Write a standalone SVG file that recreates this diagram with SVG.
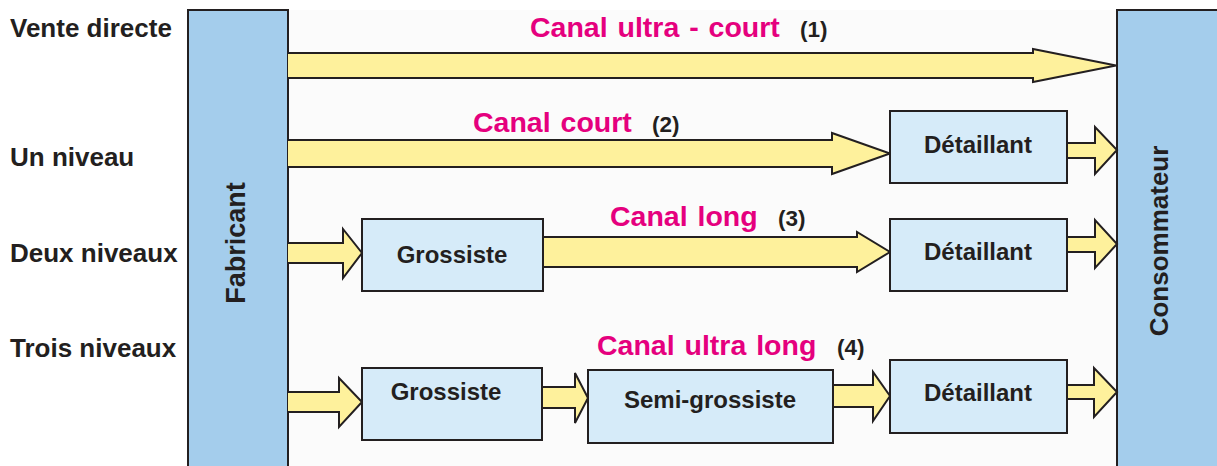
<svg xmlns="http://www.w3.org/2000/svg" width="1217" height="466" viewBox="0 0 1217 466">
<style>
.col{fill:#A4CDEC;stroke:#231F20;stroke-width:2}
.node{fill:#D6EBF9;stroke:#231F20;stroke-width:2}
.arr{fill:#FEF19C;stroke:#231F20;stroke-width:2;stroke-linejoin:miter}
.lbl{font-family:"Liberation Sans",Arial,sans-serif;font-weight:bold;fill:#231F20}
.side{font-size:26px}
.ntx{font-size:24px;text-anchor:middle}
.title{font-family:"Liberation Sans",Arial,sans-serif;font-weight:bold;font-size:28.5px;fill:#E5007E;word-spacing:2px}
.num{font-size:22.5px}
.vert{font-size:27px;text-anchor:middle}
</style>
<rect x="0" y="0" width="1217" height="466" fill="#FFFFFF"/>
<rect x="288" y="10" width="829" height="456" fill="#FBFBFB"/>

<g id="fabricant">
<rect class="col" x="188" y="10" width="100" height="470"/>
<text class="lbl vert" transform="translate(245,243) rotate(-90)">Fabricant</text>
</g>
<g id="consommateur">
<rect class="col" x="1117" y="10" width="110" height="470"/>
<text class="lbl vert" style="font-size:26px" transform="translate(1168,241) rotate(-90)">Consommateur</text>
</g>

<g id="row-labels">
<text class="lbl side" x="10" y="37">Vente directe</text>
<text class="lbl side" x="10" y="166">Un niveau</text>
<text class="lbl side" x="10" y="262">Deux niveaux</text>
<text class="lbl side" x="10" y="357">Trois niveaux</text>
</g>

<g id="titles">
<text class="title" x="530" y="37">Canal ultra - court</text>
<text class="lbl num" x="800" y="37">(1)</text>
<text class="title" x="473" y="132">Canal court</text>
<text class="lbl num" x="652" y="132">(2)</text>
<text class="title" x="610" y="226">Canal long</text>
<text class="lbl num" x="778" y="226">(3)</text>
<text class="title" x="597" y="355">Canal ultra long</text>
<text class="lbl num" x="837" y="355">(4)</text>
</g>

<g id="connectors">
<path class="arr" d="M288,53 H1033 V49 L1116,65.5 L1033,82 V78 H288"/>
<path class="arr" d="M288,140 H832 V133 L890,153.5 L832,174 V167 H288"/>
<path class="arr" d="M288,243 H343 V229 L362,253 L343,278 V263 H288"/>
<path class="arr" d="M543,237 H857 V232 L890,252 L857,272 V267 H543"/>
<path class="arr" d="M288,392 H339 V378 L362,402 L339,427 V412 H288"/>
<path class="arr" d="M542,387 H575 V373 L588,398 L575,423 V408 H542"/>
<path class="arr" d="M833,385 H873 V372 L890,396 L873,421 V407 H833"/>
<path class="arr" d="M1067,143 H1095 V127 L1117,150 L1095,174 V158 H1067"/>
<path class="arr" d="M1067,237 H1095 V220 L1117,244 L1095,268 V252 H1067"/>
<path class="arr" d="M1067,385 H1094 V368 L1117,392 L1094,417 V399 H1067"/>
</g>

<g id="detaillant-1">
<rect class="node" x="890" y="111" width="177" height="72"/>
<text class="lbl ntx" x="978" y="153">Détaillant</text>
</g>
<g id="grossiste-1">
<rect class="node" x="362" y="219" width="181" height="72"/>
<text class="lbl ntx" x="452" y="263">Grossiste</text>
</g>
<g id="detaillant-2">
<rect class="node" x="890" y="219" width="177" height="72"/>
<text class="lbl ntx" x="978" y="260">Détaillant</text>
</g>
<g id="grossiste-2">
<rect class="node" x="362" y="368" width="180" height="72"/>
<text class="lbl ntx" x="446" y="400">Grossiste</text>
</g>
<g id="semi-grossiste">
<rect class="node" x="588" y="370" width="245" height="73"/>
<text class="lbl ntx" x="710" y="408">Semi-grossiste</text>
</g>
<g id="detaillant-3">
<rect class="node" x="890" y="360" width="177" height="73"/>
<text class="lbl ntx" x="978" y="401">Détaillant</text>
</g>
</svg>
